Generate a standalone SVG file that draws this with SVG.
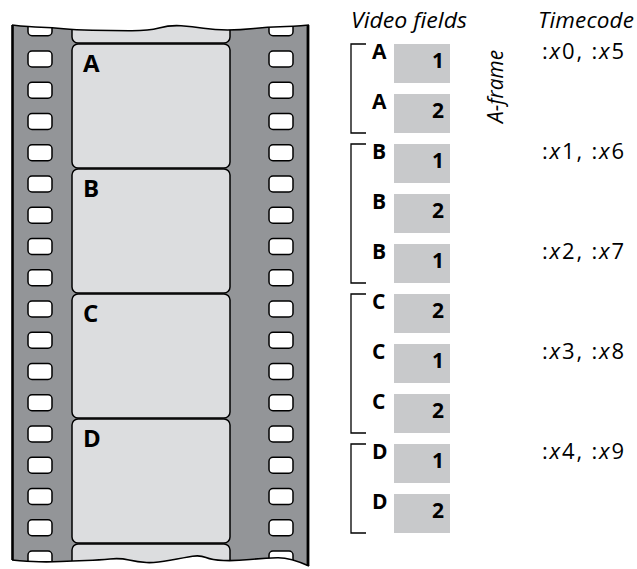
<svg xmlns="http://www.w3.org/2000/svg" width="637" height="569" viewBox="0 0 637 569">
<style>
.perf{fill:#fff;stroke:#000;stroke-width:1.5}
.frame{fill:#dcdddf;stroke:#000;stroke-width:1.5}
.flabel{font-family:"Open Sans",sans-serif;font-weight:bold;font-size:24px;fill:#000}
.box{fill:#c8c9cb}
.let{font-family:"Open Sans",sans-serif;font-weight:bold;font-size:21px;fill:#000}
.num{font-family:"Open Sans",sans-serif;font-weight:bold;font-size:21px;fill:#000;text-anchor:end}
.brk{fill:none;stroke:#000;stroke-width:1.3}
.hdr{font-family:"Open Sans",sans-serif;font-style:italic;font-size:22.5px;fill:#000}
.tc{font-family:"Open Sans",sans-serif;font-size:22px;fill:#000}
.it{font-style:italic}
</style>
<defs>
<clipPath id="stripClip">
<path d="M12,25 Q30,27 41,27.25 Q52,27.5 63.5,28.75 Q75,30 92.5,30.25 Q110,30.5 129,30.75 Q148,31 159,28 Q170,25 181,25.75 Q192,26.5 203.5,28.25 Q215,30 227.5,30 Q240,30 254,28.5 Q268,27 280,26.75 Q292,26.5 309,25 L309,566 Q290,557.5 277.5,557.75 Q265,558 250,559.5 Q235,561 223.5,560.5 Q212,560 206,557.5 Q200,555 192.5,556.25 Q185,557.5 170,560.25 Q155,563 146.5,562.5 Q138,562 129,560 Q120,558 110,559 Q100,560 86,560.5 Q72,561 61,561.5 Q50,562 39,561.75 Q28,561.5 12,560 Z"/>
</clipPath>
<rect id="pf" class="perf" width="24" height="16" rx="4"/>
</defs>

<g id="film-strip">
<g clip-path="url(#stripClip)">
<rect x="10" y="20" width="302" height="550" fill="#939598"/>
<g id="perfs-left">
<use href="#pf" x="28" y="19.75"/><use href="#pf" x="28" y="51"/><use href="#pf" x="28" y="82.25"/><use href="#pf" x="28" y="113.5"/><use href="#pf" x="28" y="144.75"/><use href="#pf" x="28" y="176"/><use href="#pf" x="28" y="207.25"/><use href="#pf" x="28" y="238.5"/><use href="#pf" x="28" y="269.75"/><use href="#pf" x="28" y="301"/><use href="#pf" x="28" y="332.25"/><use href="#pf" x="28" y="363.5"/><use href="#pf" x="28" y="394.75"/><use href="#pf" x="28" y="426"/><use href="#pf" x="28" y="457.25"/><use href="#pf" x="28" y="488.5"/><use href="#pf" x="28" y="519.75"/><use href="#pf" x="28" y="551"/>
</g>
<g id="perfs-right">
<use href="#pf" x="269" y="19.75"/><use href="#pf" x="269" y="51"/><use href="#pf" x="269" y="82.25"/><use href="#pf" x="269" y="113.5"/><use href="#pf" x="269" y="144.75"/><use href="#pf" x="269" y="176"/><use href="#pf" x="269" y="207.25"/><use href="#pf" x="269" y="238.5"/><use href="#pf" x="269" y="269.75"/><use href="#pf" x="269" y="301"/><use href="#pf" x="269" y="332.25"/><use href="#pf" x="269" y="363.5"/><use href="#pf" x="269" y="394.75"/><use href="#pf" x="269" y="426"/><use href="#pf" x="269" y="457.25"/><use href="#pf" x="269" y="488.5"/><use href="#pf" x="269" y="519.75"/><use href="#pf" x="269" y="551"/>
</g>
<rect class="frame" x="72" y="-81" width="158" height="124" rx="6"/>
<rect class="frame" x="72" y="544" width="158" height="124" rx="6"/>
</g>
<g id="frame-A"><rect class="frame" x="72" y="44" width="158" height="124" rx="6"/><text class="flabel" x="83" y="72">A</text></g>
<g id="frame-B"><rect class="frame" x="72" y="169" width="158" height="124" rx="6"/><text class="flabel" x="83" y="197">B</text></g>
<g id="frame-C"><rect class="frame" x="72" y="294" width="158" height="124" rx="6"/><text class="flabel" x="83" y="322">C</text></g>
<g id="frame-D"><rect class="frame" x="72" y="419" width="158" height="124" rx="6"/><text class="flabel" x="83" y="447">D</text></g>
<path d="M12,25 Q30,27 41,27.25 Q52,27.5 63.5,28.75 Q75,30 92.5,30.25 Q110,30.5 129,30.75 Q148,31 159,28 Q170,25 181,25.75 Q192,26.5 203.5,28.25 Q215,30 227.5,30 Q240,30 254,28.5 Q268,27 280,26.75 Q292,26.5 309,25" fill="none" stroke="#000" stroke-width="1.6"/>
<path d="M309,566 Q290,557.5 277.5,557.75 Q265,558 250,559.5 Q235,561 223.5,560.5 Q212,560 206,557.5 Q200,555 192.5,556.25 Q185,557.5 170,560.25 Q155,563 146.5,562.5 Q138,562 129,560 Q120,558 110,559 Q100,560 86,560.5 Q72,561 61,561.5 Q50,562 39,561.75 Q28,561.5 12,560" fill="none" stroke="#000" stroke-width="1.6"/>
<line x1="12.5" y1="25" x2="12.5" y2="560" stroke="#000" stroke-width="2.6"/>
<line x1="308" y1="25" x2="308" y2="566" stroke="#000" stroke-width="2.8"/>
</g>

<g id="headers">
<text class="hdr" x="351" y="28" textLength="116" lengthAdjust="spacingAndGlyphs">Video fields</text>
<text class="hdr" x="538" y="28" textLength="96" lengthAdjust="spacing">Timecode</text>
</g>

<g id="field-A1"><rect class="box" x="394" y="44" width="56" height="39"/><text class="let" x="372" y="59">A</text><text class="num" x="444" y="67.5">1</text></g>
<g id="field-A2"><rect class="box" x="394" y="94" width="56" height="39"/><text class="let" x="372" y="109">A</text><text class="num" x="444" y="117.5">2</text></g>
<g id="field-B1"><rect class="box" x="394" y="144" width="56" height="39"/><text class="let" x="372" y="159">B</text><text class="num" x="444" y="167.5">1</text></g>
<g id="field-B2"><rect class="box" x="394" y="194" width="56" height="39"/><text class="let" x="372" y="209">B</text><text class="num" x="444" y="217.5">2</text></g>
<g id="field-B3"><rect class="box" x="394" y="244" width="56" height="39"/><text class="let" x="372" y="259">B</text><text class="num" x="444" y="267.5">1</text></g>
<g id="field-C1"><rect class="box" x="394" y="294" width="56" height="39"/><text class="let" x="372" y="309">C</text><text class="num" x="444" y="317.5">2</text></g>
<g id="field-C2"><rect class="box" x="394" y="344" width="56" height="39"/><text class="let" x="372" y="359">C</text><text class="num" x="444" y="367.5">1</text></g>
<g id="field-C3"><rect class="box" x="394" y="394" width="56" height="39"/><text class="let" x="372" y="409">C</text><text class="num" x="444" y="417.5">2</text></g>
<g id="field-D1"><rect class="box" x="394" y="444" width="56" height="39"/><text class="let" x="372" y="459">D</text><text class="num" x="444" y="467.5">1</text></g>
<g id="field-D2"><rect class="box" x="394" y="494" width="56" height="39"/><text class="let" x="372" y="509">D</text><text class="num" x="444" y="517.5">2</text></g>

<g id="brackets">
<path class="brk" d="M366,44 H351 V133 H366"/>
<path class="brk" d="M366,144 H351 V283 H366"/>
<path class="brk" d="M366,294 H351 V433 H366"/>
<path class="brk" d="M366,444 H351 V533 H366"/>
</g>

<g id="aframe-label">
<text class="hdr" transform="translate(503,123) rotate(-90)" font-size="22" textLength="73" lengthAdjust="spacingAndGlyphs">A-frame</text>
</g>

<g id="timecodes">
<text class="tc" x="542" y="59" textLength="82" lengthAdjust="spacing">:<tspan class="it">x</tspan>0, :<tspan class="it">x</tspan>5</text>
<text class="tc" x="542" y="159" textLength="82" lengthAdjust="spacing">:<tspan class="it">x</tspan>1, :<tspan class="it">x</tspan>6</text>
<text class="tc" x="542" y="259" textLength="82" lengthAdjust="spacing">:<tspan class="it">x</tspan>2, :<tspan class="it">x</tspan>7</text>
<text class="tc" x="542" y="359" textLength="82" lengthAdjust="spacing">:<tspan class="it">x</tspan>3, :<tspan class="it">x</tspan>8</text>
<text class="tc" x="542" y="459" textLength="82" lengthAdjust="spacing">:<tspan class="it">x</tspan>4, :<tspan class="it">x</tspan>9</text>
</g>
</svg>
